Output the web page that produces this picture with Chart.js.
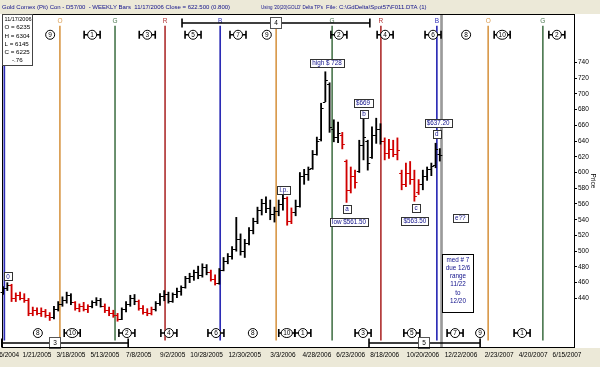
<!DOCTYPE html>
<html>
<head>
<meta charset="utf-8">
<script src="https://cdn.jsdelivr.net/npm/chart.js@4.4.1/dist/chart.umd.min.js"></script>
<style>
  html, body { margin: 0; padding: 0; background: #ECE9D8; }
  #wrap { width: 600px; height: 367px; }
</style>
</head>
<body>
<div id="wrap"><canvas id="gold-weekly-id" width="600" height="367"></canvas></div>
<script>
// weekly bars, week 0 = 11/26/2004 ... week 103 = 11/17/2006
const opens = [448,453,457,440,444,441,438,422,425,421,424,419,416,427,433,438,444,435,428,430,
  427,430,435,438,431,425,421,419,414,426,433,441,437,428,423,421,426,434,443,446,
  437,445,450,455,466,468,473,470,480,474,465,460,476,488,494,503,516,500,511,527,
  538,552,561,555,547,551,560,567,538,550,558,596,598,606,624,642,690,712,655,645,
  648,614,578,595,602,635,640,620,648,655,640,625,630,624,600,585,600,592,575,585,
  596,604,610,623.5];
const highs = [455,460,458,447,448,446,440,429,428,428,426,422,430,436,442,448,446,436,433,435,
  432,437,441,440,433,429,425,421,428,436,444,445,438,431,427,429,436,446,450,448,
  447,453,456,468,472,476,481,484,483,476,470,478,492,497,506,543,522,515,530,542,
  556,566,569,565,556,565,571,569,555,565,600,604,607,628,645,688,728,714,667,664,
  651,616,607,603,641,669,641,658,669,662,644,642,641,644,603,612,614,603,591,603,
  607,612,637.2,630.4];
const lows = [445,450,436,436,438,435,418,418,419,417,416,412,414,424,430,434,432,425,423,424,
  422,428,431,429,422,418,416,411,413,423,430,432,425,420,418,419,424,431,437,434,
  435,441,444,453,460,463,465,467,470,462,457,458,475,484,490,500,495,492,508,522,
  535,546,549,540,537,545,552,533,535,545,556,585,590,604,622,640,690,651,639,638,
  630,562,574,580,600,616,603,618,637,636,616,618,620,616,578,582,585,563.5,572,578,
  590,596,606,614.5];
const closes = [453,457,440,444,441,438,422,425,421,424,419,416,427,433,438,444,435,428,430,427,
  430,435,438,431,425,421,419,414,426,433,441,437,428,423,421,426,434,443,446,437,
  445,450,455,466,468,473,470,480,474,465,460,476,488,494,503,516,500,511,527,538,
  552,561,555,547,551,560,567,538,550,558,596,598,604,624,640,682,718,658,645,650,
  636,578,595,588,635,645,612,648,655,640,625,630,624,628,585,600,592,570,585,596,
  604,608,630,622.5];
// 1 = week drawn in red (down swing)
const downWeeks = [0,0,1,1,1,1,1,1,1,1,1,1,0,0,0,0,0,1,1,1,
  1,0,0,0,1,1,1,1,0,0,0,0,1,1,1,1,0,0,0,0,
  0,0,0,0,0,0,0,0,0,1,1,0,0,0,0,0,0,0,0,0,
  0,0,0,0,0,0,0,1,1,0,0,0,0,0,0,0,0,0,0,0,
  1,1,1,1,0,0,0,0,0,0,1,1,1,1,1,1,1,1,1,0,
  0,0,0,0];

const tickWeeks = [0, 8, 16, 24, 32, 40, 48, 57, 66, 74, 82, 90, 99, 108, 117, 125, 133];
const tickLabels = ['11/26/2004', '1/21/2005', '3/18/2005', '5/13/2005', '7/8/2005', '9/2/2005',
  '10/28/2005', '12/30/2005', '3/3/2006', '4/28/2006', '6/23/2006', '8/18/2006', '10/20/2006',
  '12/22/2006', '2/23/2007', '4/20/2007', '6/15/2007'];
const priceTicks = [440, 460, 480, 500, 520, 540, 560, 580, 600, 620, 640, 660, 680, 700, 720, 740];

// time cycle lines (week position + tag letter)
const cycleWeeks = [0.3, 13.4, 26.4, 38.2, 51.2, 64.4, 77.6, 89.1, 102.3, 114.4, 127.3];
const cycleTags = ['B', 'O', 'G', 'R', 'B', 'O', 'G', 'R', 'B', 'O', 'G'];
const currentWeek = 103.4;

// cycle count markers along top and bottom
const topMarkWeeks = [11.1, 21.0, 34.0, 44.8, 55.4, 62.2, 79.2, 90.1, 101.4, 109.2, 117.7, 130.6];
const topMarkLabels = ['9', '1', '3', '5', '7', '9', '2', '4', '6', '8', '10', '2'];
const topMarkBracket = [0, 1, 1, 1, 1, 0, 1, 1, 1, 0, 1, 1];
const botMarkWeeks = [8.2, 16.3, 29.2, 39.1, 50.2, 58.9, 66.9, 70.7, 84.9, 96.4, 106.6, 112.5, 122.4];
const botMarkLabels = ['8', '10', '2', '4', '6', '8', '10', '1', '3', '5', '7', '9', '1'];
const botMarkBracket = [0, 1, 1, 1, 1, 0, 1, 1, 1, 1, 1, 0, 1];

// range bars: start week, end week, label week, label
const rangeFrom = [42.2, -0.3, 86.3];
const rangeTo = [86.5, 29.5, 112.5];
const rangeAt = [64.4, 12.2, 99.3];
const rangeLabels = ['4', '3', '5'];
const rangeRow = ['top', 'bottom', 'bottom'];

// boxed notes on the price bars
const noteWeeks = [1.15, 66.2, 76.4, 81.1, 81.6, 84.9, 85.1, 97.4, 97.1, 102.6, 102.3, 107.8];
const notePrices = [468, 578, 739, 553.6, 537, 688, 674.3, 555, 538.3, 662.8, 649, 542];
const noteTexts = ['0', 'i.p.', 'high $ 728', 'a', 'low $561.50', '$669', 'b', 'c', '$563.50', '$637.20', 'd', 'e??'];
const medLines = ['med # 7', 'due 12/6', 'range', '11/22', 'to', '12/20'];
const infoLines = ['11/17/2006', 'O = 6235', 'H = 6304', 'L = 6145', 'C = 6225', '-.76'];

const tagColors = { B: '#2b2bb5', O: '#d99a4c', G: '#4e7a52', R: '#b03434' };
const FONT = '"Liberation Sans", Arial, sans-serif';
const NAVY = '#10108a';

function initGoldWeekly() {
  const cv = document.getElementById('gold-weekly-id');
  if (!cv) return;

  // page chrome: beige strips, white chart window, header text
  const background = {
    id: 'background',
    beforeDraw(chart) {
      const { ctx, chartArea } = chart;
      ctx.save();
      ctx.fillStyle = '#ECE9D8';
      ctx.fillRect(0, 0, chart.width, chart.height);
      ctx.fillStyle = '#ffffff';
      ctx.fillRect(0, chartArea.top, chart.width, chartArea.bottom - chartArea.top);
      ctx.fillStyle = NAVY;
      ctx.font = '6px ' + FONT;
      ctx.textBaseline = 'middle';
      ctx.fillText('Gold Comex (Pit) Con - D57/00  - WEEKLY Bars  11/17/2006 Close = 622.500 (0.800)', 2, 7, 249);
      ctx.fillText("Using '20(20)GOLD' Delta TP's", 261, 7, 62);
      ctx.fillText('File: C:\\GdDelta\\Spot57\\F011.DTA (1)', 326, 7, 136);
      ctx.restore();
    }
  };

  // open (left) and close (right) ticks on each weekly bar
  const ohlcTicks = {
    id: 'ohlcTicks',
    afterDatasetsDraw(chart) {
      const { ctx, scales: { x, y } } = chart;
      ctx.save();
      ctx.lineWidth = 1;
      closes.forEach((c, i) => {
        const px = x.getPixelForValue(i);
        const yo = Math.round(y.getPixelForValue(opens[i])) + 0.5;
        const yc = Math.round(y.getPixelForValue(c)) + 0.5;
        ctx.strokeStyle = downWeeks[i] ? '#d00000' : '#000000';
        ctx.beginPath();
        ctx.moveTo(px - 2.5, yo); ctx.lineTo(px, yo);
        ctx.moveTo(px, yc); ctx.lineTo(px + 2.5, yc);
        ctx.stroke();
      });
      ctx.restore();
    }
  };

  function marker(ctx, px, py, label, bracket) {
    ctx.strokeStyle = '#000';
    if (bracket) {
      ctx.lineWidth = 1.6;
      ctx.beginPath();
      ctx.moveTo(px - 8, py); ctx.lineTo(px + 8, py);
      ctx.moveTo(px - 8, py - 4); ctx.lineTo(px - 8, py + 4);
      ctx.moveTo(px + 8, py - 4); ctx.lineTo(px + 8, py + 4);
      ctx.stroke();
    }
    const rx = Math.max(4.5, ctx.measureText(label).width / 2 + 2);
    ctx.lineWidth = 1;
    ctx.beginPath();
    ctx.ellipse(px, py, rx, 4.5, 0, 0, Math.PI * 2);
    ctx.fillStyle = '#fff';
    ctx.fill();
    ctx.stroke();
    ctx.fillStyle = '#000';
    ctx.fillText(label, px, py + 0.5);
  }

  function box(ctx, px, py, text, color) {
    const w = Math.ceil(ctx.measureText(text).width) + 4;
    const h = 8;
    const bx = Math.round(px - w / 2) + 0.5;
    const by = Math.round(py - h / 2) + 0.5;
    ctx.fillStyle = '#fff';
    ctx.fillRect(bx, by, w, h);
    ctx.strokeStyle = '#333';
    ctx.lineWidth = 1;
    ctx.strokeRect(bx, by, w, h);
    ctx.fillStyle = color;
    ctx.fillText(text, px, py + 0.5);
  }

  // cycle letters, count markers, range bars, notes, info box, frame
  const annotations = {
    id: 'annotations',
    afterDatasetsDraw(chart) {
      const { ctx, chartArea: area, scales: { x, y } } = chart;
      ctx.save();
      ctx.textAlign = 'center';
      ctx.textBaseline = 'middle';

      ctx.font = '6.5px ' + FONT;
      cycleWeeks.forEach((w, i) => {
        ctx.fillStyle = tagColors[cycleTags[i]];
        ctx.fillText(cycleTags[i], x.getPixelForValue(w), y.getPixelForValue(792.5));
      });

      topMarkWeeks.forEach((w, i) => {
        marker(ctx, x.getPixelForValue(w), y.getPixelForValue(775), topMarkLabels[i], topMarkBracket[i]);
      });
      botMarkWeeks.forEach((w, i) => {
        marker(ctx, x.getPixelForValue(w), y.getPixelForValue(396), botMarkLabels[i], botMarkBracket[i]);
      });

      rangeFrom.forEach((f, i) => {
        const py = Math.round(y.getPixelForValue(rangeRow[i] === 'top' ? 790.5 : 383.5));
        const x0 = x.getPixelForValue(f);
        const x1 = x.getPixelForValue(rangeTo[i]);
        ctx.strokeStyle = '#000';
        ctx.lineWidth = 1.6;
        ctx.beginPath();
        ctx.moveTo(x0, py); ctx.lineTo(x1, py);
        ctx.moveTo(x0, py - 4.5); ctx.lineTo(x0, py + 4.5);
        ctx.moveTo(x1, py - 4.5); ctx.lineTo(x1, py + 4.5);
        ctx.stroke();
        const px = Math.round(x.getPixelForValue(rangeAt[i]));
        ctx.lineWidth = 1;
        ctx.fillStyle = '#fff';
        ctx.fillRect(px - 5.5, py - 5.5, 11, 11);
        ctx.strokeStyle = '#555';
        ctx.strokeRect(px - 5.5, py - 5.5, 11, 11);
        ctx.fillStyle = '#000';
        ctx.fillText(rangeLabels[i], px, py + 0.5);
      });

      ctx.font = '6.3px ' + FONT;
      noteWeeks.forEach((w, i) => {
        box(ctx, x.getPixelForValue(w), y.getPixelForValue(notePrices[i]), noteTexts[i], NAVY);
      });

      // median projection note
      const mx = Math.round(x.getPixelForValue(107.2));
      const my = Math.round(y.getPixelForValue(458));
      ctx.fillStyle = '#fff';
      ctx.fillRect(mx - 15.5, my - 29.5, 31, 58);
      ctx.strokeStyle = '#000';
      ctx.strokeRect(mx - 15.5, my - 29.5, 31, 58);
      ctx.fillStyle = NAVY;
      medLines.forEach((t, i) => ctx.fillText(t, mx, my - 24 + i * 8.2));

      // frame
      ctx.strokeStyle = '#000';
      ctx.lineWidth = 1;
      ctx.strokeRect(area.left - 0.5, area.top + 0.5, area.right - area.left, area.bottom - area.top - 1);

      // info box
      ctx.fillStyle = '#fff';
      ctx.fillRect(2.5, 14.5, 30, 51);
      ctx.strokeStyle = '#444';
      ctx.strokeRect(2.5, 14.5, 30, 51);
      ctx.fillStyle = '#000';
      ctx.textAlign = 'left';
      ctx.font = '6.2px ' + FONT;
      infoLines.forEach((t, i) => ctx.fillText(t, i === 5 ? 12 : 4.5, 19.5 + i * 8.2, 27));
      ctx.restore();
    }
  };

  new Chart(cv, {
    type: 'bar',
    data: {
      datasets: [
        {
          label: 'Weekly range',
          data: highs.map((h, i) => ({ x: i, y: [lows[i], h] })),
          backgroundColor: downWeeks.map(d => d ? '#d00000' : '#000000'),
          barThickness: 1.2,
          grouped: false,
          borderWidth: 0
        },
        {
          label: 'Current week',
          data: [{ x: currentWeek, y: [378, 801] }],
          backgroundColor: '#9a9a9a',
          barThickness: 2,
          grouped: false,
          borderWidth: 0
        },
        {
          label: 'Cycle lines',
          data: cycleWeeks.map(w => ({ x: w, y: [387, 786] })),
          backgroundColor: cycleTags.map(t => tagColors[t]),
          barThickness: 1,
          grouped: false,
          borderWidth: 0
        }
      ]
    },
    options: {
      responsive: false,
      animation: false,
      devicePixelRatio: 1,
      layout: { autoPadding: false, padding: { left: 3, top: 14, right: 0, bottom: 0 } },
      plugins: {
        legend: { display: false },
        tooltip: { enabled: false },
        title: { display: false }
      },
      scales: {
        x: {
          type: 'linear',
          min: -0.02,
          max: 134.88,
          offset: false,
          grid: { display: false, drawTicks: false },
          border: { display: false },
          afterBuildTicks: axis => { axis.ticks = tickWeeks.map(v => ({ value: v })); },
          afterFit: axis => {
            axis.height = 19;
            axis.paddingLeft = 0;
            axis.paddingRight = 0;
          },
          ticks: {
            autoSkip: false,
            maxRotation: 0,
            padding: 3,
            color: '#000',
            font: { family: FONT, size: 6.5 },
            callback: value => tickLabels[tickWeeks.indexOf(value)]
          }
        },
        y: {
          position: 'right',
          min: 377,
          max: 801.4,
          grid: { display: true, drawOnChartArea: false, tickLength: 2, color: '#000' },
          border: { display: false },
          afterBuildTicks: axis => { axis.ticks = priceTicks.map(v => ({ value: v })); },
          afterFit: axis => {
            axis.width = 25;
            axis.paddingTop = 0;
            axis.paddingBottom = 0;
          },
          title: {
            display: true,
            text: 'Price',
            color: '#000',
            padding: { top: 3, bottom: 0 },
            font: { family: FONT, size: 6.5 }
          },
          ticks: {
            padding: 1,
            color: '#000',
            font: { family: FONT, size: 6.5 },
            callback: value => String(value)
          }
        }
      }
    },
    plugins: [background, ohlcTicks, annotations]
  });
}

document.addEventListener('DOMContentLoaded', initGoldWeekly);
</script>
</body>
</html>
